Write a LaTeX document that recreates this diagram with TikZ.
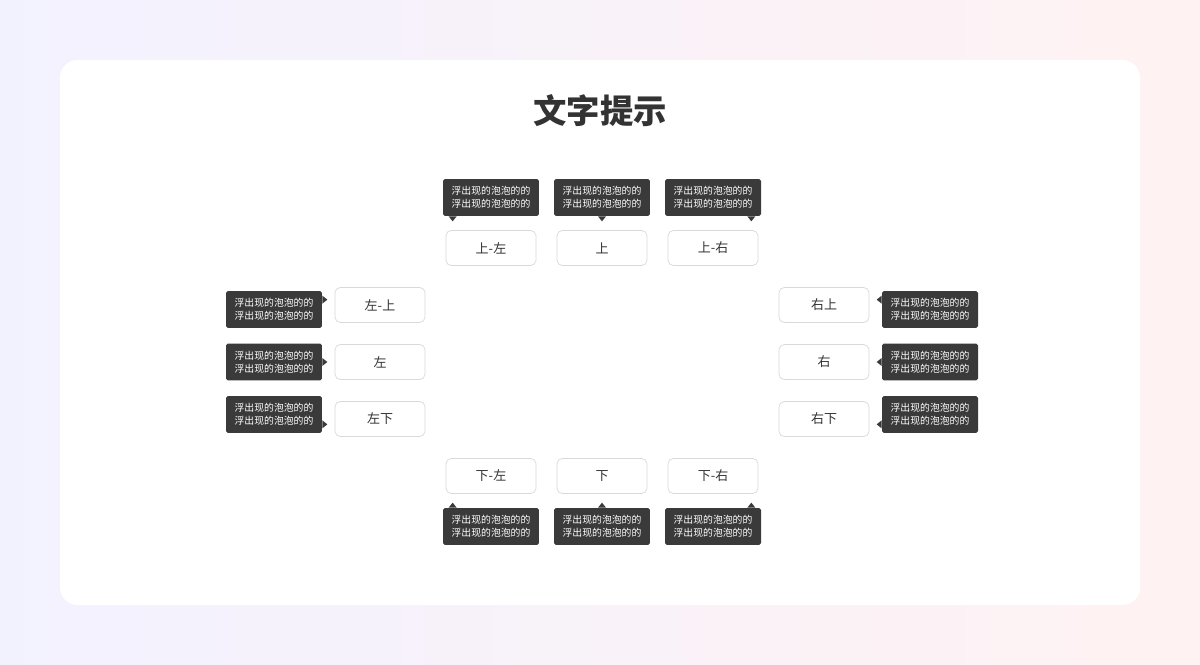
\documentclass[tikz,border=0pt]{standalone}
\usepackage{fontspec}
\setmainfont{Noto Sans CJK SC}
\definecolor{tipgray}{HTML}{3A3A3A}
\definecolor{btnline}{HTML}{D9D9D9}
\definecolor{titlegray}{HTML}{333333}
\begin{document}
\begin{tikzpicture}[x=0.02cm,y=-0.02cm]
    \tikzstyle{btn}=[draw=btnline, fill=white, rounded corners=3pt, minimum width=1.8cm, minimum height=0.7cm, font=\fontsize{7.4}{9}\selectfont, text=titlegray]
    \tikzstyle{tip}=[fill=tipgray, text=white, rounded corners=1pt, minimum width=1.92cm, minimum height=0.74cm, inner sep=1pt, align=center, font=\fontsize{5.6}{7.6}\selectfont]
    \def\tiptext{浮出现的泡泡的的\\浮出现的泡泡的的}
    
    % background and card
    \shade[left color=blue!5!white, right color=red!5!white] (0,0) rectangle (1200,665);
    \fill[white, rounded corners=10pt] (60,60) rectangle (1140,605);
    \node[font=\fontsize{19}{22}\selectfont\bfseries, text=titlegray] (title) at (600,111) {文字提示};
    
    % top row
    \foreach \name/\x/\lbl in {tl/491/上-左, tc/602/上, tr/713/上-右} {
        \node[btn] (b\name) at (\x,248) {\lbl};
        \node[tip] (t\name) at (\x,197.5) {\tiptext};
    }
    \fill[tipgray] (ttl.south west) ++(6,0) -- ++(4,5) -- ++(4,-5) -- cycle;
    \fill[tipgray] (ttc.south) ++(-4,0) -- ++(4,5) -- ++(4,-5) -- cycle;
    \fill[tipgray] (ttr.south east) ++(-14,0) -- ++(4,5) -- ++(4,-5) -- cycle;
    
    % bottom row
    \foreach \name/\x/\lbl in {bl/491/下-左, bc/602/下, br/713/下-右} {
        \node[btn] (b\name) at (\x,476) {\lbl};
        \node[tip] (t\name) at (\x,526.5) {\tiptext};
    }
    \fill[tipgray] (tbl.north west) ++(6,0) -- ++(4,-5) -- ++(4,5) -- cycle;
    \fill[tipgray] (tbc.north) ++(-4,0) -- ++(4,-5) -- ++(4,5) -- cycle;
    \fill[tipgray] (tbr.north east) ++(-14,0) -- ++(4,-5) -- ++(4,5) -- cycle;
    
    % left column
    \foreach \name/\y/\lbl in {lt/305/左-上, lc/362/左, lb/419/左下} {
        \node[btn] (b\name) at (380,\y) {\lbl};
    }
    \node[tip] (tlt) at (274,309.5) {\tiptext};
    \node[tip] (tlc) at (274,362) {\tiptext};
    \node[tip] (tlb) at (274,414.5) {\tiptext};
    \fill[tipgray] (tlt.north east) ++(0,5) -- ++(5,4) -- ++(-5,4) -- cycle;
    \fill[tipgray] (tlc.east) ++(0,-4) -- ++(5,4) -- ++(-5,4) -- cycle;
    \fill[tipgray] (tlb.south east) ++(0,-13) -- ++(5,4) -- ++(-5,4) -- cycle;
    
    % right column
    \foreach \name/\y/\lbl in {rt/305/右上, rc/362/右, rb/419/右下} {
        \node[btn] (b\name) at (824,\y) {\lbl};
    }
    \node[tip] (trt) at (930,309.5) {\tiptext};
    \node[tip] (trc) at (930,362) {\tiptext};
    \node[tip] (trb) at (930,414.5) {\tiptext};
    \fill[tipgray] (trt.north west) ++(0,5) -- ++(-5,4) -- ++(5,4) -- cycle;
    \fill[tipgray] (trc.west) ++(0,-4) -- ++(-5,4) -- ++(5,4) -- cycle;
    \fill[tipgray] (trb.south west) ++(0,-13) -- ++(-5,4) -- ++(5,4) -- cycle;
    
    \useasboundingbox (0,0) rectangle (1200,665);
\end{tikzpicture}
\end{document}
